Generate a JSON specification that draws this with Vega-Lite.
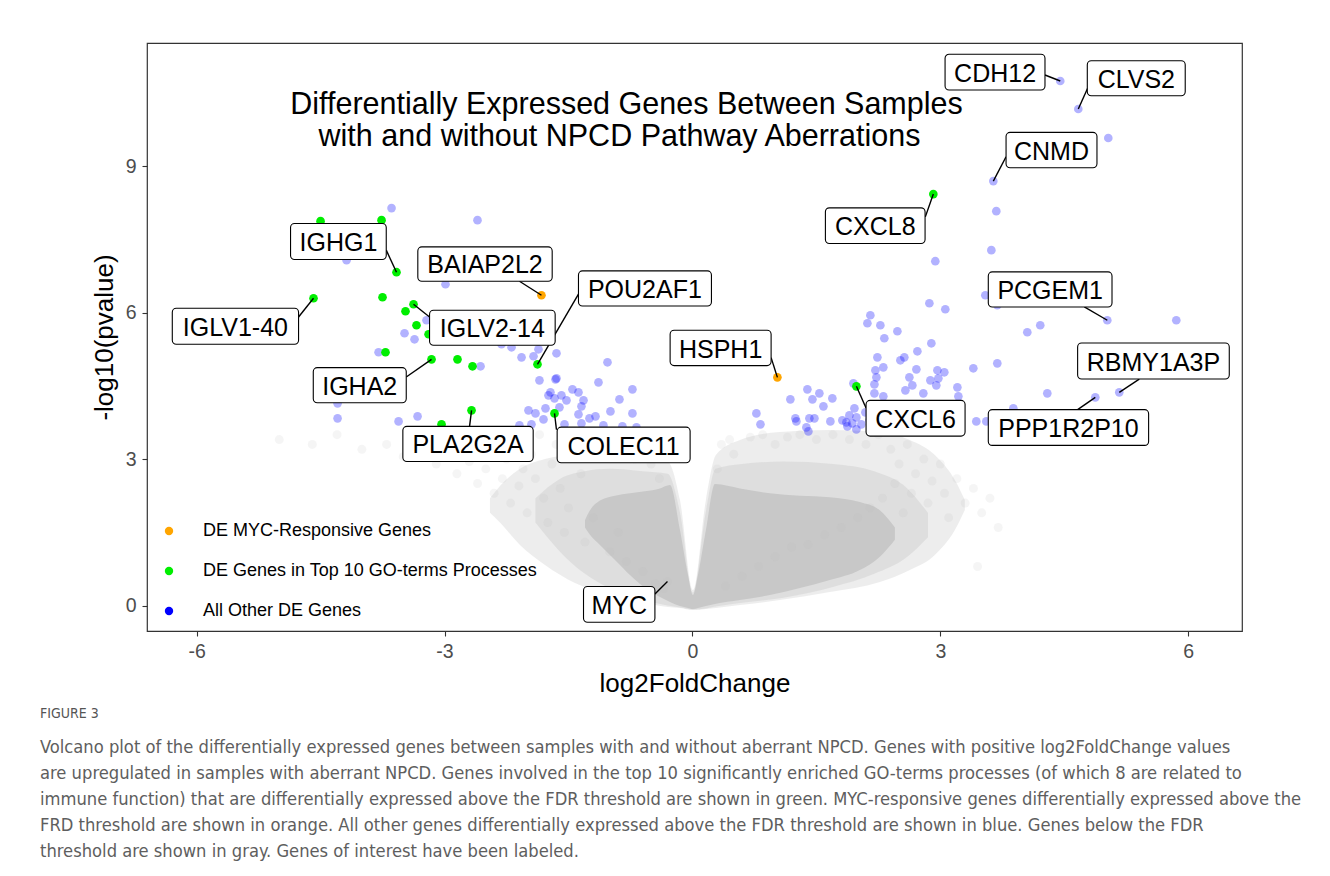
{
  "$schema": "https://vega.github.io/schema/vega-lite/v6.json",
  "width": 1095,
  "height": 588,
  "autosize": {"type": "none"},
  "padding": {"left": 147, "top": 43, "right": 88, "bottom": 245},
  "background": "white",
  "title": {
    "text": "FIGURE 3",
    "subtitle": [
      "Volcano plot of the differentially expressed genes between samples with and without aberrant NPCD. Genes with positive log2FoldChange values",
      "are upregulated in samples with aberrant NPCD. Genes involved in the top 10 significantly enriched GO-terms processes (of which 8 are related to",
      "immune function) that are differentially expressed above the FDR threshold are shown in green. MYC-responsive genes differentially expressed above the",
      "FRD threshold are shown in orange. All other genes differentially expressed above the FDR threshold are shown in blue. Genes below the FDR",
      "threshold are shown in gray. Genes of interest have been labeled."
    ],
    "orient": "bottom",
    "anchor": "start",
    "frame": "group",
    "dx": -107,
    "offset": 10,
    "font": "Liberation Sans Narrow, DejaVu Sans Condensed, Liberation Sans",
    "fontSize": 14,
    "fontWeight": "normal",
    "color": "#555555",
    "subtitleFont": "Liberation Sans Narrow, DejaVu Sans Condensed, Liberation Sans",
    "subtitleFontSize": 18.2,
    "subtitleColor": "#5e5e5e",
    "subtitleLineHeight": 26,
    "subtitlePadding": 18
  },
  "config": {
    "font": "Liberation Sans",
    "view": {"stroke": "#333333", "strokeWidth": 1.2},
    "axis": {
      "domain": false,
      "grid": false,
      "ticks": true,
      "tickSize": 5,
      "tickColor": "#333333",
      "tickWidth": 1.1,
      "labelFont": "Liberation Sans",
      "labelFontSize": 19.5,
      "labelColor": "#4d4d4d",
      "labelExpr": "datum.value < 0 ? '-' + abs(datum.value) : '' + datum.value",
      "titleFont": "Liberation Sans",
      "titleFontSize": 26,
      "titleFontWeight": "normal",
      "titleColor": "#000000"
    },
    "axisX": {"labelPadding": 6, "titlePadding": 10},
    "axisY": {"labelPadding": 6, "titlePadding": 8}
  },
  "datasets": {
    "halo": [
      {"x": -2.45, "up": 2.2, "low": 1.9},
      {"x": -2.329, "up": 2.45, "low": 1.70},
      {"x": -2.087, "up": 2.80, "low": 1.240},
      {"x": -1.784, "up": 3.0, "low": 0.830},
      {"x": -1.421, "up": 3.1, "low": 0.461},
      {"x": -0.998, "up": 3.15, "low": 0.215},
      {"x": -0.575, "up": 3.084, "low": 0.051},
      {"x": -0.296, "up": 2.95, "low": -0.031},
      {"x": -0.151, "up": 2.162, "low": -0.051},
      {"x": 0.006, "up": 0.318, "low": -0.092},
      {"x": 0.163, "up": 2.162, "low": -0.072},
      {"x": 0.284, "up": 3.084, "low": -0.051},
      {"x": 0.575, "up": 3.391, "low": 0.010},
      {"x": 1.058, "up": 3.555, "low": 0.113},
      {"x": 1.663, "up": 3.596, "low": 0.277},
      {"x": 2.268, "up": 3.555, "low": 0.482},
      {"x": 2.631, "up": 3.391, "low": 0.727},
      {"x": 2.933, "up": 3.084, "low": 1.035},
      {"x": 3.175, "up": 2.572, "low": 1.547},
      {"x": 3.296, "up": 2.162, "low": 1.957}
    ],
    "mid": [
      {"x": -1.9, "up": 2.2, "low": 1.7},
      {"x": -1.6, "up": 2.6, "low": 1.1},
      {"x": -1.3, "up": 2.75, "low": 0.65},
      {"x": -1.0, "up": 2.8, "low": 0.35},
      {"x": -0.6, "up": 2.75, "low": 0.12},
      {"x": -0.3, "up": 2.7, "low": 0.0},
      {"x": -0.15, "up": 1.9, "low": -0.04},
      {"x": 0.006, "up": 0.27, "low": -0.08},
      {"x": 0.16, "up": 1.9, "low": -0.06},
      {"x": 0.28, "up": 2.8, "low": -0.02},
      {"x": 0.6, "up": 2.9, "low": 0.06},
      {"x": 1.1, "up": 2.95, "low": 0.16},
      {"x": 1.7, "up": 2.9, "low": 0.38},
      {"x": 2.2, "up": 2.75, "low": 0.65},
      {"x": 2.6, "up": 2.4, "low": 1.0},
      {"x": 2.85, "up": 1.9, "low": 1.4}
    ],
    "core": [
      {"x": -1.30, "up": 1.75, "low": 1.60},
      {"x": -1.240, "up": 1.95, "low": 1.45},
      {"x": -1.119, "up": 2.150, "low": 1.240},
      {"x": -0.937, "up": 2.25, "low": 0.932},
      {"x": -0.756, "up": 2.30, "low": 0.625},
      {"x": -0.575, "up": 2.34, "low": 0.359},
      {"x": -0.393, "up": 2.40, "low": 0.174},
      {"x": -0.272, "up": 2.469, "low": 0.072},
      {"x": -0.151, "up": 1.547, "low": -0.010},
      {"x": -0.054, "up": 0.625, "low": -0.051},
      {"x": 0.006, "up": 0.215, "low": -0.072},
      {"x": 0.067, "up": 0.625, "low": -0.051},
      {"x": 0.163, "up": 1.547, "low": -0.010},
      {"x": 0.272, "up": 2.490, "low": 0.031},
      {"x": 0.575, "up": 2.40, "low": 0.113},
      {"x": 0.937, "up": 2.30, "low": 0.215},
      {"x": 1.300, "up": 2.25, "low": 0.359},
      {"x": 1.663, "up": 2.22, "low": 0.523},
      {"x": 2.026, "up": 2.12, "low": 0.727},
      {"x": 2.268, "up": 1.95, "low": 1.0},
      {"x": 2.45, "up": 1.6, "low": 1.35}
    ],
    "ns": [
      {"x": -5.0, "y": 3.4}, {"x": -4.6, "y": 3.3}, {"x": -4.3, "y": 3.5}, {"x": -4.0, "y": 3.2},
      {"x": -3.7, "y": 3.3}, {"x": -3.5, "y": 3.05}, {"x": -3.3, "y": 3.4}, {"x": -3.1, "y": 2.9},
      {"x": -3.0, "y": 3.2}, {"x": -2.85, "y": 2.7}, {"x": -2.8, "y": 3.45}, {"x": -2.7, "y": 2.95},
      {"x": -2.6, "y": 2.5}, {"x": -2.55, "y": 3.2}, {"x": -2.5, "y": 2.8}, {"x": -2.4, "y": 2.3},
      {"x": -2.35, "y": 3.45}, {"x": -2.3, "y": 2.6}, {"x": -2.25, "y": 3.0}, {"x": -2.2, "y": 2.1},
      {"x": -2.15, "y": 3.3}, {"x": -2.1, "y": 2.45}, {"x": -2.05, "y": 2.8}, {"x": -2.0, "y": 1.9},
      {"x": -1.95, "y": 3.1}, {"x": -1.9, "y": 2.6}, {"x": -1.85, "y": 3.5}, {"x": -1.8, "y": 2.2},
      {"x": -1.75, "y": 1.7}, {"x": -1.7, "y": 2.9}, {"x": -1.65, "y": 3.3}, {"x": -1.6, "y": 2.4},
      {"x": -1.55, "y": 1.5}, {"x": -1.5, "y": 2.0}, {"x": -1.45, "y": 3.5}, {"x": -1.4, "y": 3.1},
      {"x": -1.35, "y": 2.7}, {"x": -1.3, "y": 1.3}, {"x": -1.25, "y": 3.4}, {"x": -1.2, "y": 1.8},
      {"x": -1.15, "y": 3.2}, {"x": -1.1, "y": 3.45}, {"x": -1.0, "y": 1.1}, {"x": -0.95, "y": 3.35},
      {"x": -0.9, "y": 1.5}, {"x": -0.8, "y": 0.9}, {"x": -0.75, "y": 3.2}, {"x": -0.7, "y": 3.0},
      {"x": -0.6, "y": 0.7}, {"x": -0.5, "y": 2.9}, {"x": -0.45, "y": 0.45}, {"x": -0.4, "y": 2.6},
      {"x": -0.35, "y": 0.35}, {"x": -0.302, "y": 0.492},
      {"x": 0.3, "y": 2.8}, {"x": 0.35, "y": 3.3}, {"x": 0.4, "y": 0.4}, {"x": 0.45, "y": 3.4},
      {"x": 0.5, "y": 3.1}, {"x": 0.6, "y": 0.6}, {"x": 0.7, "y": 3.45}, {"x": 0.8, "y": 0.8},
      {"x": 0.85, "y": 3.5}, {"x": 1.0, "y": 3.3}, {"x": 1.0, "y": 1.0}, {"x": 1.15, "y": 3.45},
      {"x": 1.2, "y": 1.2}, {"x": 1.3, "y": 3.5}, {"x": 1.4, "y": 1.25}, {"x": 1.5, "y": 3.4},
      {"x": 1.6, "y": 1.45}, {"x": 1.7, "y": 3.5}, {"x": 1.8, "y": 1.6}, {"x": 1.9, "y": 3.4},
      {"x": 2.0, "y": 1.8}, {"x": 2.1, "y": 3.3}, {"x": 2.15, "y": 2.0}, {"x": 2.25, "y": 3.5},
      {"x": 2.3, "y": 2.2}, {"x": 2.4, "y": 3.2}, {"x": 2.45, "y": 2.5}, {"x": 2.5, "y": 2.9},
      {"x": 2.55, "y": 1.9}, {"x": 2.6, "y": 3.3}, {"x": 2.65, "y": 2.3}, {"x": 2.7, "y": 2.7},
      {"x": 2.8, "y": 3.0}, {"x": 2.85, "y": 2.1}, {"x": 2.9, "y": 2.55}, {"x": 3.0, "y": 2.9},
      {"x": 3.05, "y": 2.3}, {"x": 3.1, "y": 1.8}, {"x": 3.2, "y": 2.6}, {"x": 3.3, "y": 2.1},
      {"x": 3.4, "y": 2.4}, {"x": 3.45, "y": 0.8}, {"x": 3.5, "y": 1.9}, {"x": 3.6, "y": 2.2},
      {"x": 3.7, "y": 1.6}
    ],
    "de": [
      {"x": 4.451, "y": 10.742, "c": "DE"}, {"x": 4.669, "y": 10.168, "c": "DE"}, {"x": 5.032, "y": 9.574, "c": "DE"},
      {"x": 3.641, "y": 8.692, "c": "DE"}, {"x": 3.677, "y": 8.077, "c": "DE"}, {"x": 3.617, "y": 7.278, "c": "DE"},
      {"x": 2.939, "y": 7.052, "c": "DE"}, {"x": 2.867, "y": 6.191, "c": "DE"}, {"x": 3.060, "y": 6.068, "c": "DE"},
      {"x": 3.544, "y": 6.355, "c": "DE"}, {"x": 3.689, "y": 6.150, "c": "DE"}, {"x": 5.020, "y": 5.843, "c": "DE"},
      {"x": 5.855, "y": 5.843, "c": "DE"}, {"x": 4.209, "y": 5.740, "c": "DE"}, {"x": 4.052, "y": 5.597, "c": "DE"},
      {"x": 3.689, "y": 4.961, "c": "DE"}, {"x": 3.399, "y": 4.859, "c": "DE"}, {"x": 4.294, "y": 4.346, "c": "DE"},
      {"x": 5.165, "y": 4.367, "c": "DE"}, {"x": 4.875, "y": 4.264, "c": "DE"}, {"x": 3.883, "y": 4.039, "c": "DE"},
      {"x": 3.435, "y": 3.772, "c": "DE"}, {"x": 3.556, "y": 3.772, "c": "DE"},
      {"x": 2.153, "y": 5.945, "c": "DE"}, {"x": 2.117, "y": 5.781, "c": "DE"}, {"x": 2.274, "y": 5.740, "c": "DE"},
      {"x": 2.480, "y": 5.617, "c": "DE"}, {"x": 2.322, "y": 5.474, "c": "DE"}, {"x": 2.891, "y": 5.371, "c": "DE"},
      {"x": 2.722, "y": 5.207, "c": "DE"}, {"x": 2.238, "y": 5.084, "c": "DE"}, {"x": 2.564, "y": 5.084, "c": "DE"},
      {"x": 2.516, "y": 5.023, "c": "DE"}, {"x": 2.310, "y": 4.879, "c": "DE"}, {"x": 2.214, "y": 4.818, "c": "DE"},
      {"x": 2.710, "y": 4.838, "c": "DE"}, {"x": 2.964, "y": 4.818, "c": "DE"}, {"x": 3.048, "y": 4.777, "c": "DE"},
      {"x": 2.226, "y": 4.674, "c": "DE"}, {"x": 2.625, "y": 4.674, "c": "DE"}, {"x": 2.879, "y": 4.613, "c": "DE"},
      {"x": 2.976, "y": 4.654, "c": "DE"}, {"x": 2.202, "y": 4.531, "c": "DE"}, {"x": 2.661, "y": 4.510, "c": "DE"},
      {"x": 2.951, "y": 4.510, "c": "DE"}, {"x": 3.206, "y": 4.469, "c": "DE"}, {"x": 2.577, "y": 4.408, "c": "DE"},
      {"x": 2.794, "y": 4.346, "c": "DE"}, {"x": 2.202, "y": 4.346, "c": "DE"}, {"x": 2.310, "y": 4.285, "c": "DE"},
      {"x": 3.218, "y": 4.285, "c": "DE"}, {"x": 1.948, "y": 4.551, "c": "DE"}, {"x": 1.391, "y": 4.428, "c": "DE"},
      {"x": 1.536, "y": 4.346, "c": "DE"}, {"x": 1.693, "y": 4.244, "c": "DE"}, {"x": 1.185, "y": 4.223, "c": "DE"},
      {"x": 1.452, "y": 4.223, "c": "DE"}, {"x": 1.585, "y": 4.080, "c": "DE"}, {"x": 0.774, "y": 3.936, "c": "DE"},
      {"x": 0.823, "y": 3.711, "c": "DE"}, {"x": 1.246, "y": 3.834, "c": "DE"}, {"x": 1.258, "y": 3.772, "c": "DE"},
      {"x": 1.415, "y": 3.834, "c": "DE"}, {"x": 1.476, "y": 3.834, "c": "DE"}, {"x": 1.379, "y": 3.649, "c": "DE"},
      {"x": 1.403, "y": 3.567, "c": "DE"}, {"x": 1.669, "y": 3.772, "c": "DE"}, {"x": 1.814, "y": 3.793, "c": "DE"},
      {"x": 1.863, "y": 3.752, "c": "DE"}, {"x": 1.899, "y": 3.895, "c": "DE"}, {"x": 1.960, "y": 4.039, "c": "DE"},
      {"x": 1.984, "y": 3.854, "c": "DE"}, {"x": 1.935, "y": 3.731, "c": "DE"}, {"x": 1.984, "y": 3.608, "c": "DE"},
      {"x": 2.044, "y": 3.711, "c": "DE"}, {"x": 2.093, "y": 3.957, "c": "DE"}, {"x": 2.141, "y": 3.793, "c": "DE"},
      {"x": 1.875, "y": 3.670, "c": "DE"},
      {"x": -3.641, "y": 8.139, "c": "DE"}, {"x": -2.601, "y": 7.893, "c": "DE"}, {"x": -4.185, "y": 7.073, "c": "DE"},
      {"x": -2.988, "y": 6.581, "c": "DE"}, {"x": -3.218, "y": 5.843, "c": "DE"}, {"x": -3.484, "y": 5.576, "c": "DE"},
      {"x": -3.363, "y": 5.453, "c": "DE"}, {"x": -3.798, "y": 5.187, "c": "DE"}, {"x": -2.564, "y": 4.900, "c": "DE"},
      {"x": -4.294, "y": 4.141, "c": "DE"}, {"x": -4.294, "y": 3.834, "c": "DE"}, {"x": -3.556, "y": 3.772, "c": "DE"},
      {"x": -3.326, "y": 3.875, "c": "DE"},
      {"x": -2.310, "y": 5.351, "c": "DE"}, {"x": -2.189, "y": 5.289, "c": "DE"}, {"x": -2.068, "y": 5.084, "c": "DE"},
      {"x": -1.923, "y": 5.105, "c": "DE"}, {"x": -1.863, "y": 5.248, "c": "DE"}, {"x": -1.645, "y": 5.166, "c": "DE"},
      {"x": -1.028, "y": 4.982, "c": "DE"}, {"x": -1.851, "y": 4.613, "c": "DE"}, {"x": -1.645, "y": 4.654, "c": "DE"},
      {"x": -1.657, "y": 4.633, "c": "DE"}, {"x": -1.137, "y": 4.572, "c": "DE"}, {"x": -1.742, "y": 4.305, "c": "DE"},
      {"x": -1.669, "y": 4.244, "c": "DE"}, {"x": -1.452, "y": 4.428, "c": "DE"}, {"x": -1.379, "y": 4.367, "c": "DE"},
      {"x": -1.318, "y": 4.203, "c": "DE"}, {"x": -1.343, "y": 4.080, "c": "DE"}, {"x": -0.726, "y": 4.428, "c": "DE"},
      {"x": -0.883, "y": 4.223, "c": "DE"}, {"x": -1.984, "y": 3.998, "c": "DE"}, {"x": -1.899, "y": 3.936, "c": "DE"},
      {"x": -1.802, "y": 3.813, "c": "DE"}, {"x": -1.778, "y": 4.039, "c": "DE"}, {"x": -1.609, "y": 4.059, "c": "DE"},
      {"x": -1.379, "y": 3.916, "c": "DE"}, {"x": -1.246, "y": 3.834, "c": "DE"}, {"x": -1.173, "y": 3.875, "c": "DE"},
      {"x": -0.992, "y": 3.977, "c": "DE"}, {"x": -0.726, "y": 3.936, "c": "DE"}, {"x": -1.343, "y": 3.731, "c": "DE"},
      {"x": -1.077, "y": 3.690, "c": "DE"}, {"x": -0.847, "y": 3.670, "c": "DE"}, {"x": -0.677, "y": 3.649, "c": "DE"},
      {"x": -1.548, "y": 3.711, "c": "DE"}, {"x": -1.948, "y": 3.711, "c": "DE"}, {"x": -2.093, "y": 3.690, "c": "DE"},
      {"x": -1.718, "y": 4.367, "c": "DE"}, {"x": -1.585, "y": 4.305, "c": "DE"}, {"x": -1.524, "y": 4.203, "c": "DE"},
      {"x": 2.915, "y": 8.426, "c": "GO"}, {"x": 1.984, "y": 4.490, "c": "GO"}, {"x": -4.500, "y": 7.872, "c": "GO"},
      {"x": -3.762, "y": 7.893, "c": "GO"}, {"x": -3.581, "y": 6.827, "c": "GO"}, {"x": -4.585, "y": 6.294, "c": "GO"},
      {"x": -3.750, "y": 6.314, "c": "GO"}, {"x": -3.375, "y": 6.171, "c": "GO"}, {"x": -3.472, "y": 6.027, "c": "GO"},
      {"x": -3.339, "y": 5.740, "c": "GO"}, {"x": -3.193, "y": 5.556, "c": "GO"}, {"x": -3.714, "y": 5.187, "c": "GO"},
      {"x": -3.157, "y": 5.043, "c": "GO"}, {"x": -2.843, "y": 5.043, "c": "GO"}, {"x": -2.661, "y": 4.900, "c": "GO"},
      {"x": -1.875, "y": 4.941, "c": "GO"}, {"x": -2.673, "y": 3.998, "c": "GO"}, {"x": -3.036, "y": 3.711, "c": "GO"},
      {"x": -1.669, "y": 3.936, "c": "GO"},
      {"x": -1.827, "y": 6.355, "c": "MYC"}, {"x": 1.028, "y": 4.674, "c": "MYC"}
    ],
    "labels": [
      {"g": "CDH12", "px": 4.451, "py": 10.742, "ex": 4.266, "ey": 10.865, "x1": 3.057, "x2": 4.266, "yt": 11.289, "yb": 10.558, "lx": 3.662, "ly": 10.722},
      {"g": "CLVS2", "px": 4.669, "py": 10.168, "ex": 4.782, "ey": 10.593, "x1": 4.778, "x2": 5.963, "yt": 11.158, "yb": 10.441, "lx": 5.371, "ly": 10.605},
      {"g": "CNMD", "px": 3.641, "py": 8.692, "ex": 3.795, "ey": 9.190, "x1": 3.795, "x2": 4.895, "yt": 9.690, "yb": 8.965, "lx": 4.345, "ly": 9.129},
      {"g": "CXCL8", "px": 2.915, "py": 8.426, "ex": 2.818, "ey": 7.960, "x1": 1.609, "x2": 2.815, "yt": 8.145, "yb": 7.415, "lx": 2.212, "ly": 7.579},
      {"g": "PCGEM1", "px": 5.020, "py": 5.843, "ex": 4.742, "ey": 6.115, "x1": 3.580, "x2": 5.077, "yt": 6.833, "yb": 6.115, "lx": 4.329, "ly": 6.279},
      {"g": "RBMY1A3P", "px": 5.165, "py": 4.367, "ex": 5.407, "ey": 4.639, "x1": 4.661, "x2": 6.496, "yt": 5.377, "yb": 4.639, "lx": 5.579, "ly": 4.803},
      {"g": "PPP1R2P10", "px": 4.875, "py": 4.264, "ex": 4.661, "ey": 4.012, "x1": 3.580, "x2": 5.520, "yt": 4.012, "yb": 3.280, "lx": 4.550, "ly": 3.444},
      {"g": "CXCL6", "px": 1.984, "py": 4.490, "ex": 2.101, "ey": 4.045, "x1": 2.101, "x2": 3.299, "yt": 4.203, "yb": 3.471, "lx": 2.700, "ly": 3.635},
      {"g": "HSPH1", "px": 1.028, "py": 4.674, "ex": 0.952, "ey": 5.078, "x1": -0.270, "x2": 0.952, "yt": 5.638, "yb": 4.914, "lx": 0.341, "ly": 5.078},
      {"g": "POU2AF1", "px": -1.875, "py": 4.941, "ex": -1.379, "ey": 6.376, "x1": -1.379, "x2": 0.230, "yt": 6.853, "yb": 6.136, "lx": -0.575, "ly": 6.300},
      {"g": "COLEC11", "px": -1.669, "py": 3.936, "ex": -1.645, "ey": 3.600, "x1": -1.637, "x2": -0.028, "yt": 3.655, "yb": 2.925, "lx": -0.833, "ly": 3.089},
      {"g": "BAIAP2L2", "px": -1.827, "py": 6.355, "ex": -2.093, "ey": 6.642, "x1": -3.323, "x2": -1.697, "yt": 7.345, "yb": 6.642, "lx": -2.510, "ly": 6.806},
      {"g": "IGHG1", "px": -3.581, "py": 6.827, "ex": -3.705, "ey": 7.278, "x1": -4.863, "x2": -3.705, "yt": 7.825, "yb": 7.087, "lx": -4.284, "ly": 7.251},
      {"g": "IGLV1-40", "px": -4.585, "py": 6.294, "ex": -4.766, "ey": 5.910, "x1": -6.294, "x2": -4.766, "yt": 6.089, "yb": 5.351, "lx": -5.530, "ly": 5.515},
      {"g": "IGLV2-14", "px": -3.375, "py": 6.171, "ex": -3.181, "ey": 5.910, "x1": -3.181, "x2": -1.661, "yt": 6.048, "yb": 5.330, "lx": -2.421, "ly": 5.494},
      {"g": "IGHA2", "px": -3.157, "py": 5.043, "ex": -3.463, "ey": 4.680, "x1": -4.588, "x2": -3.463, "yt": 4.873, "yb": 4.155, "lx": -4.026, "ly": 4.319},
      {"g": "PLA2G2A", "px": -2.673, "py": 3.998, "ex": -2.697, "ey": 3.670, "x1": -3.504, "x2": -1.927, "yt": 3.670, "yb": 2.952, "lx": -2.716, "ly": 3.116},
      {"g": "MYC", "px": -0.302, "py": 0.492, "ex": -0.454, "ey": 0.240, "x1": -1.318, "x2": -0.454, "yt": 0.390, "yb": -0.342, "lx": -0.886, "ly": -0.178}
    ],
    "heading": [
      {"x": -0.798, "y": 10.066, "t": "Differentially Expressed Genes Between Samples"},
      {"x": -0.883, "y": 9.402, "t": "with and without NPCD Pathway Aberrations"}
    ]
  },
  "layer": [
    {
      "data": {"name": "halo"},
      "mark": {"type": "area", "color": "#bebebe", "opacity": 0.28, "interpolate": "monotone"},
      "encoding": {
        "x": {"field": "x", "type": "quantitative", "title": "log2FoldChange", "scale": {"domain": [-6.6, 6.65], "nice": false, "zero": false}, "axis": {"values": [-6, -3, 0, 3, 6]}},
        "y": {"field": "up", "type": "quantitative", "title": "-log10(pvalue)", "scale": {"domain": [-0.52, 11.52], "nice": false, "zero": false}, "axis": {"values": [0, 3, 6, 9]}},
        "y2": {"field": "low"}
      }
    },
    {
      "data": {"name": "mid"},
      "mark": {"type": "area", "color": "#bebebe", "opacity": 0.3, "interpolate": "monotone"},
      "encoding": {
        "x": {"field": "x", "type": "quantitative", "title": "log2FoldChange"},
        "y": {"field": "up", "type": "quantitative", "title": "-log10(pvalue)"},
        "y2": {"field": "low"}
      }
    },
    {
      "data": {"name": "core"},
      "mark": {"type": "area", "color": "#c8c8c8", "opacity": 1, "interpolate": "monotone"},
      "encoding": {
        "x": {"field": "x", "type": "quantitative", "title": "log2FoldChange"},
        "y": {"field": "up", "type": "quantitative", "title": "-log10(pvalue)"},
        "y2": {"field": "low"}
      }
    },
    {
      "data": {"name": "ns"},
      "mark": {"type": "circle", "color": "#bebebe", "opacity": 0.15, "size": 80},
      "encoding": {
        "x": {"field": "x", "type": "quantitative", "title": "log2FoldChange"},
        "y": {"field": "y", "type": "quantitative", "title": "-log10(pvalue)"}
      }
    },
    {
      "data": {"name": "de"},
      "transform": [{"filter": "datum.c == 'DE'"}],
      "mark": {"type": "circle", "size": 75, "strokeWidth": 0, "opacity": 0.3},
      "encoding": {
        "x": {"field": "x", "type": "quantitative", "title": "log2FoldChange"},
        "y": {"field": "y", "type": "quantitative", "title": "-log10(pvalue)"},
        "color": {
          "field": "c", "type": "nominal",
          "scale": {"domain": ["MYC", "GO", "DE"], "range": ["#ffa500", "#00ee00", "#0000ff"]},
          "legend": {
            "orient": "none", "legendX": 13, "legendY": 479, "title": null,
            "symbolOpacity": 1, "symbolSize": 70, "symbolType": "circle", "symbolStrokeWidth": 0,
            "labelFont": "Liberation Sans", "labelFontSize": 18, "labelColor": "#000000", "labelLimit": 0,
            "rowPadding": 22, "labelOffset": 25, "padding": 0,
            "labelExpr": "datum.label == 'MYC' ? 'DE MYC-Responsive Genes' : datum.label == 'GO' ? 'DE Genes in Top 10 GO-terms Processes' : 'All Other DE Genes'"
          }
        }
      }
    },
    {
      "data": {"name": "de"},
      "transform": [{"filter": "datum.c != 'DE'"}],
      "mark": {"type": "circle", "size": 75, "strokeWidth": 0, "opacity": 1},
      "encoding": {
        "x": {"field": "x", "type": "quantitative", "title": "log2FoldChange"},
        "y": {"field": "y", "type": "quantitative", "title": "-log10(pvalue)"},
        "color": {
          "field": "c", "type": "nominal",
          "scale": {"domain": ["MYC", "GO", "DE"], "range": ["#ffa500", "#00ee00", "#0000ff"]},
          "legend": {
            "orient": "none", "legendX": 13, "legendY": 479, "title": null,
            "symbolOpacity": 1, "symbolSize": 70, "symbolType": "circle", "symbolStrokeWidth": 0,
            "labelFont": "Liberation Sans", "labelFontSize": 18, "labelColor": "#000000", "labelLimit": 0,
            "rowPadding": 22, "labelOffset": 25, "padding": 0,
            "labelExpr": "datum.label == 'MYC' ? 'DE MYC-Responsive Genes' : datum.label == 'GO' ? 'DE Genes in Top 10 GO-terms Processes' : 'All Other DE Genes'"
          }
        }
      }
    },
    {
      "data": {"name": "labels"},
      "mark": {"type": "rule", "color": "#000000", "strokeWidth": 1.4},
      "encoding": {
        "x": {"field": "px", "type": "quantitative", "title": "log2FoldChange"},
        "y": {"field": "py", "type": "quantitative", "title": "-log10(pvalue)"},
        "x2": {"field": "ex"},
        "y2": {"field": "ey"}
      }
    },
    {
      "data": {"name": "labels"},
      "mark": {"type": "rect", "fill": "#ffffff", "stroke": "#000000", "strokeWidth": 1.1, "cornerRadius": 4},
      "encoding": {
        "x": {"field": "x1", "type": "quantitative", "title": "log2FoldChange"},
        "x2": {"field": "x2"},
        "y": {"field": "yt", "type": "quantitative", "title": "-log10(pvalue)"},
        "y2": {"field": "yb"}
      }
    },
    {
      "data": {"name": "labels"},
      "mark": {"type": "text", "fontSize": 25, "font": "Liberation Sans", "color": "#000000", "align": "center", "baseline": "alphabetic"},
      "encoding": {
        "x": {"field": "lx", "type": "quantitative", "title": "log2FoldChange"},
        "y": {"field": "ly", "type": "quantitative", "title": "-log10(pvalue)"},
        "text": {"field": "g", "type": "nominal"}
      }
    },
    {
      "data": {"name": "heading"},
      "mark": {"type": "text", "fontSize": 30.5, "font": "Liberation Sans", "color": "#000000", "align": "center", "baseline": "alphabetic"},
      "encoding": {
        "x": {"field": "x", "type": "quantitative", "title": "log2FoldChange"},
        "y": {"field": "y", "type": "quantitative", "title": "-log10(pvalue)"},
        "text": {"field": "t", "type": "nominal"}
      }
    }
  ]
}
